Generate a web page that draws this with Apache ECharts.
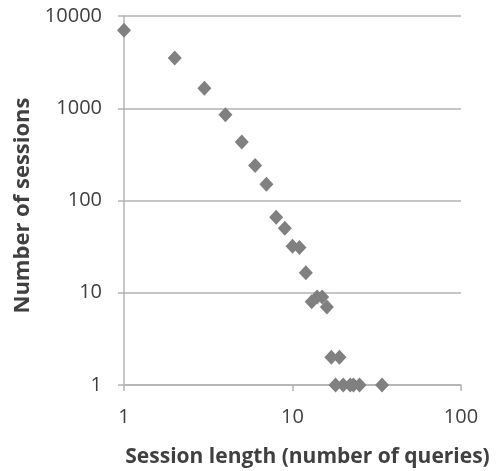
<!DOCTYPE html>
<html>
<head>
<meta charset="utf-8">
<script src="https://cdn.jsdelivr.net/npm/echarts@6/dist/echarts.min.js"></script>
<style>
  html, body { margin: 0; padding: 0; background: #fff; }
  #chart { width: 502px; height: 471px; }
</style>
</head>
<body>
<div id="chart"></div>
<script>
// session length (queries) and how many sessions had that length
const sessionLength = [1, 2, 3, 4, 5, 6, 7, 8, 9, 10, 11, 12, 13, 14, 15, 16, 17, 19, 18, 20, 22, 23, 25, 34]
const sessionCount = [7000, 3500, 1650, 850, 430, 240, 150, 66, 50, 32, 31, 16.5, 8, 9, 9, 7, 2, 2, 1, 1, 1, 1, 1, 1]

const xTicks = [1, 10, 100]
const yTicks = [1, 10, 100, 1000, 10000]

const points = sessionLength.map((x, i) => [x, sessionCount[i]])

const chart = echarts.init(document.getElementById('chart'))

const labelFont = '"Open Sans", sans-serif'
const option = {
  animation: false,
  grid: {
    left: 124,
    right: 41,
    top: 16,
    bottom: 86,
    outerBoundsMode: 'none',
  },
  xAxis: {
    type: 'log',
    logBase: 10,
    min: xTicks[0],
    max: xTicks[xTicks.length - 1],
    name: 'Session length (number of queries)',
    nameLocation: 'middle',
    nameGap: 62,
    nameTextStyle: {
      color: '#404040',
      fontFamily: labelFont,
      fontWeight: 'bold',
      fontSize: 21,
      padding: [0, 0, 0, 30],
    },
    axisLine: { show: true, lineStyle: { color: '#b3b3b3', width: 1.5 } },
    axisTick: { show: true, inside: false, length: 6, lineStyle: { color: '#b3b3b3', width: 1.5 } },
    axisLabel: {
      color: '#404040',
      fontFamily: labelFont,
      fontSize: 20,
      margin: 22,
      formatter: (v) => String(v),
    },
    splitLine: { show: false },
  },
  yAxis: {
    type: 'log',
    logBase: 10,
    min: yTicks[0],
    max: yTicks[yTicks.length - 1],
    name: 'Number of sessions',
    nameLocation: 'middle',
    nameGap: 88,
    nameRotate: 90,
    nameTextStyle: {
      color: '#404040',
      fontFamily: labelFont,
      fontWeight: 'bold',
      fontSize: 22,
      padding: [0, 10, 0, 0],
    },
    axisLine: { show: true, lineStyle: { color: '#b3b3b3', width: 1.5 } },
    axisTick: { show: true, length: 6, lineStyle: { color: '#b3b3b3', width: 1.5 } },
    axisLabel: {
      color: '#404040',
      fontFamily: labelFont,
      fontSize: 20,
      margin: 22,
      formatter: (v) => String(v),
    },
    splitLine: { show: true, lineStyle: { color: '#b3b3b3', width: 1.5 } },
  },
  series: [
    {
      type: 'scatter',
      data: points,
      symbol: 'diamond',
      symbolSize: [14, 15],
      itemStyle: { color: '#808080', opacity: 1 },
    },
  ],
}
chart.setOption(option)
</script>
</body>
</html>
